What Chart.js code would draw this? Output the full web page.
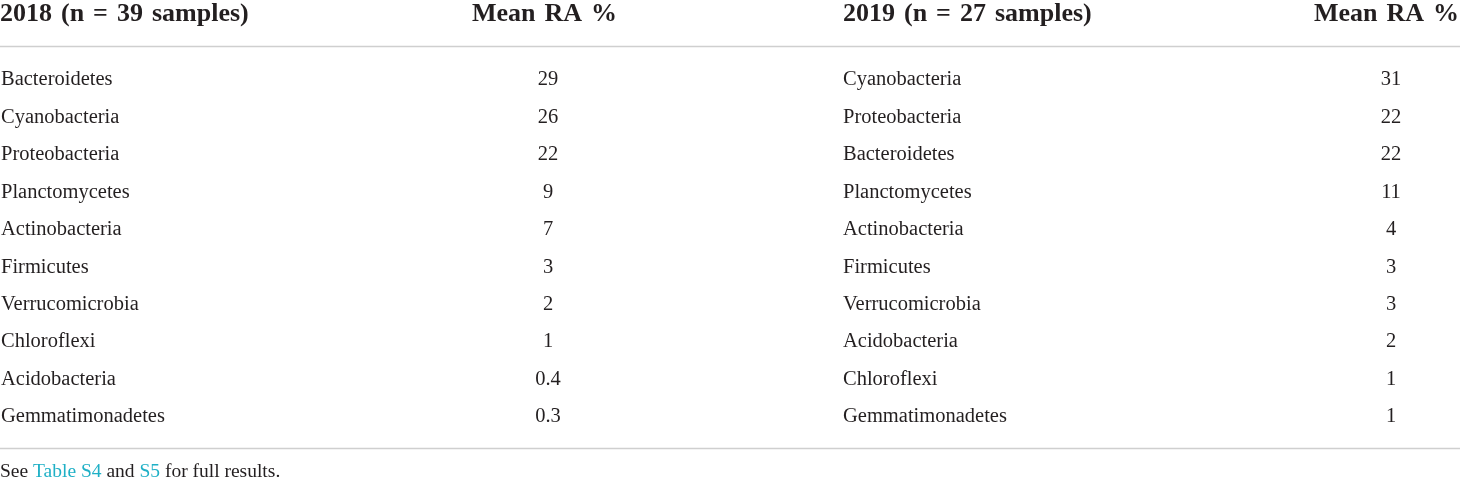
<!DOCTYPE html>
<html>
<head>
<meta charset="utf-8">
<script src="https://cdn.jsdelivr.net/npm/chart.js@4"></script>
<style>
  html, body { margin: 0; padding: 0; background: #fff; }
  #wrap { width: 1460px; height: 478px; position: relative; }
</style>
</head>
<body>
<div id="wrap"><canvas id="canvas"></canvas></div>
<script>
// table content
var header2018 = '2018 (n = 39 samples)';
var header2019 = '2019 (n = 27 samples)';
var colTitle = 'Mean RA %';

var names2018 = ['Bacteroidetes', 'Cyanobacteria', 'Proteobacteria', 'Planctomycetes', 'Actinobacteria',
    'Firmicutes', 'Verrucomicrobia', 'Chloroflexi', 'Acidobacteria', 'Gemmatimonadetes'];
var ra2018 = [29, 26, 22, 9, 7, 3, 2, 1, 0.4, 0.3];

var names2019 = ['Cyanobacteria', 'Proteobacteria', 'Bacteroidetes', 'Planctomycetes', 'Actinobacteria',
    'Firmicutes', 'Verrucomicrobia', 'Acidobacteria', 'Chloroflexi', 'Gemmatimonadetes'];
var ra2019 = [31, 22, 22, 11, 4, 3, 3, 2, 1, 1];

// footnote pieces, second value = is a link
var footnote = [['See ', false], ['Table S4', true], [' and ', false], ['S5', true], [' for full results.', false]];

// layout / style (not data)
var colX = {name2018: 1, ra2018: 548, name2019: 843, ra2019: 1391, title2018: 617, title2019: 1459};
var rowPos = {header: -1.5487, headerRule: -0.8545, bottomRule: 9.880, footnote: 10.628};
var textColor = '#231f20';
var linkColor = '#1fb0c6';
var ruleColor = '#cfcfcf';
var serif = '"Liberation Serif", "Times New Roman", serif';
var bodySize = 20.5;
var headSize = 26;
var noteSize = 19.5;

var toPoints = function (arr, x) {
    return arr.map(function (v, i) { return {x: x, y: i}; });
};

var tablePlugin = {
    id: 'tableText',
    afterDatasetsDraw: function (chart) {
        var ctx = chart.ctx;
        var xs = chart.scales.x, ys = chart.scales.y;
        var area = chart.chartArea;
        ctx.save();

        // horizontal rules
        ctx.strokeStyle = ruleColor;
        ctx.lineWidth = 1.5;
        [rowPos.headerRule, rowPos.bottomRule].forEach(function (v) {
            var py = ys.getPixelForValue(v);
            ctx.beginPath();
            ctx.moveTo(area.left, py);
            ctx.lineTo(area.right, py);
            ctx.stroke();
        });

        // header row
        ctx.fillStyle = textColor;
        ctx.font = 'bold ' + headSize + 'px ' + serif;
        ctx.textBaseline = 'alphabetic';
        ctx.wordSpacing = '2.5px';
        var hy = ys.getPixelForValue(rowPos.header);
        ctx.textAlign = 'left';
        ctx.fillText(header2018, xs.getPixelForValue(colX.name2018) - 1, hy);
        ctx.fillText(header2019, xs.getPixelForValue(colX.name2019), hy);
        ctx.textAlign = 'right';
        ctx.fillText(colTitle, xs.getPixelForValue(colX.title2018), hy);
        ctx.fillText(colTitle, xs.getPixelForValue(colX.title2019), hy);
        ctx.wordSpacing = '0px';

        // cells, placed on the dataset points
        ctx.font = bodySize + 'px ' + serif;
        chart.data.datasets.forEach(function (ds, i) {
            var meta = chart.getDatasetMeta(i);
            ctx.textAlign = ds.cellAlign;
            meta.data.forEach(function (pt, j) {
                ctx.fillText(String(ds.cellText[j]), pt.x, pt.y + bodySize * 0.33);
            });
        });

        // footnote
        ctx.font = noteSize + 'px ' + serif;
        ctx.textAlign = 'left';
        var fx = area.left;
        var fy = ys.getPixelForValue(rowPos.footnote);
        footnote.forEach(function (part) {
            ctx.fillStyle = part[1] ? linkColor : textColor;
            ctx.fillText(part[0], fx, fy);
            fx += ctx.measureText(part[0]).width;
        });

        ctx.restore();
    }
};

var config = {
    type: 'scatter',
    data: {
        datasets: [
            {data: toPoints(names2018, colX.name2018), cellText: names2018, cellAlign: 'left'},
            {data: toPoints(ra2018, colX.ra2018), cellText: ra2018, cellAlign: 'center'},
            {data: toPoints(names2019, colX.name2019), cellText: names2019, cellAlign: 'left'},
            {data: toPoints(ra2019, colX.ra2019), cellText: ra2019, cellAlign: 'center'}
        ]
    },
    options: {
        responsive: true,
        maintainAspectRatio: false,
        animation: false,
        layout: {padding: 0},
        elements: {point: {radius: 0, hoverRadius: 0}},
        plugins: {legend: {display: false}, tooltip: {enabled: false}},
        scales: {
            x: {type: 'linear', min: 0, max: 1460, display: false},
            y: {type: 'linear', min: -2.0961, max: 10.6676, reverse: true, display: false}
        }
    },
    plugins: [tablePlugin]
};

var ctx = document.getElementById('canvas').getContext('2d');
new Chart(ctx, config);
</script>
</body>
</html>
